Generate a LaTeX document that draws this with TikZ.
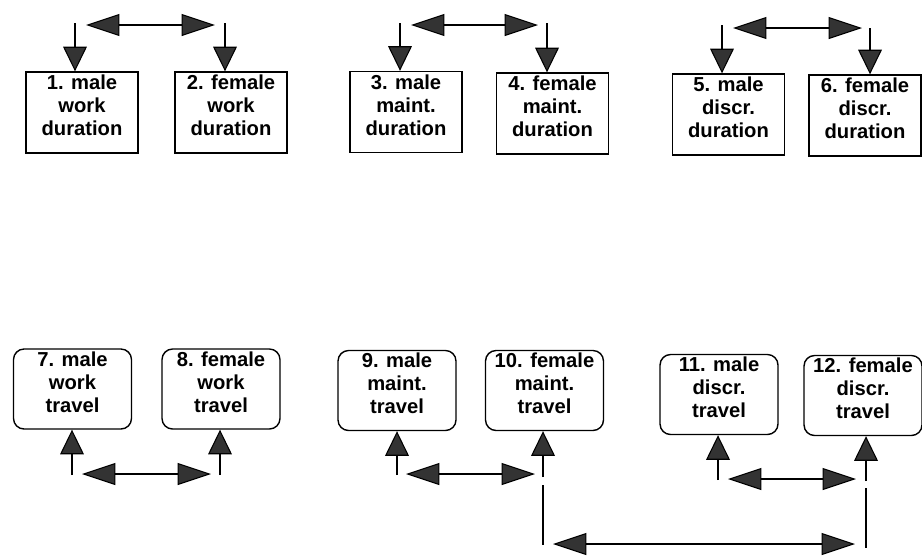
\documentclass[tikz,border=0pt]{standalone}
\usepackage{fontspec}
\setmainfont{Liberation Sans}
\usetikzlibrary{arrows.meta}
\begin{document}
\begin{tikzpicture}[x=0.02cm,y=-0.02cm,
    dur/.style={draw,line width=0.8pt,minimum width=2.24cm,minimum height=1.62cm,inner sep=1pt,align=center,text depth=8pt,font=\bfseries\fontsize{11.5}{13.2}\selectfont},
    trv/.style={dur,rounded corners=6pt,minimum width=2.36cm,minimum height=1.6cm},
    vline/.style={line width=1pt,-{Triangle[length=14pt,width=13.5pt,fill=black!80,line width=0.6pt]}},
    hline/.style={line width=1.6pt,{Triangle[length=19pt,width=12.5pt,fill=black!80,line width=0.6pt]}-{Triangle[length=19pt,width=12.5pt,fill=black!80,line width=0.6pt]}}]
    \useasboundingbox (0,0) rectangle (922,555);
    \node[dur] (b1) at (82,112.5) {1. male\\work\\duration};
    \node[dur] (b2) at (231,112.5) {2. female\\work\\duration};
    \node[dur] (b3) at (406,112) {3. male\\maint.\\duration};
    \node[dur] (b4) at (552.5,113.5) {4. female\\maint.\\duration};
    \node[dur] (b5) at (728.5,114.5) {5. male\\discr.\\duration};
    \node[dur] (b6) at (865,115.5) {6. female\\discr.\\duration};
    \node[trv] (b7) at (72.5,389) {7. male\\work\\travel};
    \node[trv] (b8) at (221,389) {8. female\\work\\travel};
    \node[trv] (b9) at (397,390.5) {9. male\\maint.\\travel};
    \node[trv] (b10) at (544.5,390.5) {10. female\\maint.\\travel};
    \node[trv] (b11) at (719,394.5) {11. male\\discr.\\travel};
    \node[trv] (b12) at (863,395.5) {12. female\\discr.\\travel};
    \foreach \i/\x/\y in {1/75/23,2/225/23,3/400/23,4/547/23,5/722/25,6/870/28}{
        \coordinate (t\i) at (\x,\y);
        \draw[vline] (t\i) -- (t\i |- b\i.north);
    }
    \foreach \i/\x/\y in {7/72/475,8/220/475,9/397/475,10/543/477,11/718/480,12/866/481}{
        \coordinate (u\i) at (\x,\y);
        \draw[vline] (u\i) -- (u\i |- b\i.south);
    }
    \coordinate (l10a) at (543,485);
    \coordinate (l10b) at (543,545);
    \coordinate (l12a) at (866,488);
    \coordinate (l12b) at (866,548);
    \draw[line width=1pt] (l10a) -- (l10b);
    \draw[line width=1pt] (l12a) -- (l12b);
    \foreach \n/\xa/\xb/\y in {p12/86/215/25,p34/411/538/25,p56/733/862/28,p78/82/211/474,p910/406/535/474,p1112/728/856/479,p1012/553/855/544}{
        \coordinate (\n l) at (\xa,\y);
        \coordinate (\n r) at (\xb,\y);
        \draw[hline] (\n l) -- (\n r);
    }
\end{tikzpicture}
\end{document}
